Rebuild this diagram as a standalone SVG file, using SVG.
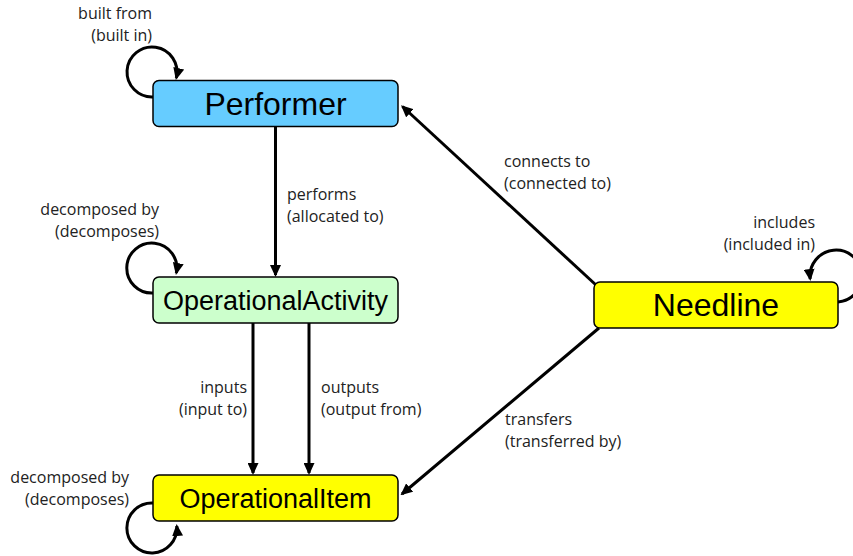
<svg xmlns="http://www.w3.org/2000/svg" width="853" height="556" viewBox="0 0 853 556">
<style>
.box{stroke:#000;stroke-width:1.5}
.node{font-family:"Liberation Sans",Arial,sans-serif;fill:#000;text-anchor:middle}
.lbl{font-family:"Open Sans","Noto Sans",sans-serif;font-size:16px;fill:#222}
.edge{fill:none;stroke:#000;stroke-width:3;marker-end:url(#ah)}
.r{text-anchor:end}
</style>
<defs>
<marker id="ah" markerUnits="userSpaceOnUse" markerWidth="12" markerHeight="11" viewBox="0 0 12 11" refX="10" refY="5.5" orient="auto">
<path d="M0,0 L12,5.5 L0,11 z" fill="#000"/>
</marker>
</defs>
<rect width="853" height="556" fill="#fff"/>
<g id="connectors">
<path class="edge" d="M275.5 127 L275.5 275"/>
<path class="edge" d="M253 323 L253 473"/>
<path class="edge" d="M309 323 L309 473"/>
<path class="edge" d="M596 285 L402.5 106.5"/>
<path class="edge" d="M599 328 L402 494"/>
<path class="edge" d="M153 97 A25 25 0 1 1 176.3 78"/>
<path class="edge" d="M153 293 A25 25 0 1 1 176.3 273"/>
<path class="edge" d="M153 503 A25 25 0 1 0 176.8 526"/>
<path class="edge" d="M838 302 A26 26 0 1 0 810.2 279"/>
</g>
<g id="labels">
<text class="lbl r" x="152" y="19">built from</text>
<text class="lbl r" x="152" y="41">(built in)</text>
<text class="lbl" x="287" y="200">performs</text>
<text class="lbl" x="287" y="222">(allocated to)</text>
<text class="lbl r" x="159" y="215">decomposed by</text>
<text class="lbl r" x="159" y="237">(decomposes)</text>
<text class="lbl" x="504" y="167">connects to</text>
<text class="lbl" x="504" y="189">(connected to)</text>
<text class="lbl r" x="815" y="228">includes</text>
<text class="lbl r" x="815" y="250">(included in)</text>
<text class="lbl r" x="247" y="393">inputs</text>
<text class="lbl r" x="247" y="415">(input to)</text>
<text class="lbl" x="321" y="393">outputs</text>
<text class="lbl" x="321" y="415">(output from)</text>
<text class="lbl" x="505" y="425">transfers</text>
<text class="lbl" x="505" y="447">(transferred by)</text>
<text class="lbl r" x="129" y="483">decomposed by</text>
<text class="lbl r" x="129" y="505">(decomposes)</text>
</g>
<g id="Performer">
<rect class="box" x="153" y="80.5" width="245" height="46" rx="6" fill="#66CCFF"/>
<text class="node" x="275.5" y="115" font-size="32">Performer</text>
</g>
<g id="OperationalActivity">
<rect class="box" x="153" y="277" width="245" height="46" rx="6" fill="#CCFFCC"/>
<text class="node" x="275.5" y="310" font-size="27">OperationalActivity</text>
</g>
<g id="OperationalItem">
<rect class="box" x="153" y="475" width="245" height="46" rx="6" fill="#FFFF00"/>
<text class="node" x="275.5" y="508" font-size="27">OperationalItem</text>
</g>
<g id="Needline">
<rect class="box" x="594" y="282" width="244" height="46" rx="6" fill="#FFFF00"/>
<text class="node" x="716" y="316" font-size="32">Needline</text>
</g>
</svg>
